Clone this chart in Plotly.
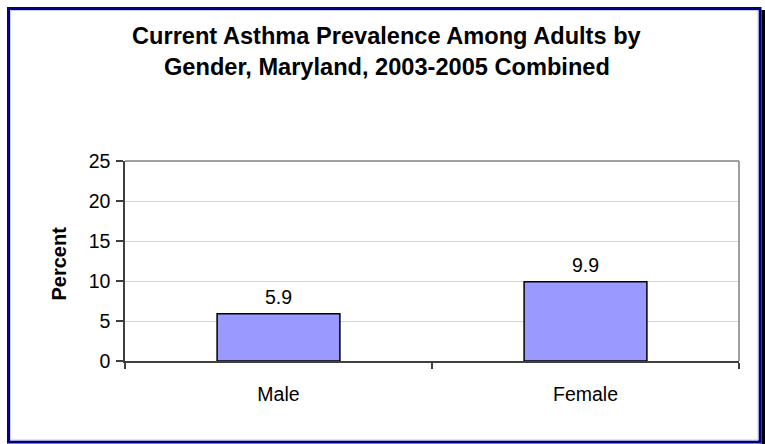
import plotly.graph_objects as go

# Current asthma prevalence among adults, Maryland 2003-2005 combined
genders = ["Male", "Female"]
prevalence = [5.9, 9.9]
y_ticks = [0, 5, 10, 15, 20, 25]

FONT = "Liberation Sans, Arial, sans-serif"

W, H = 765, 444
L, R, T, B = 125, 26, 161, 83
PW, PH = W - L - R, H - T - B


def px(x):
    """Convert a pixel column to paper x."""
    return (x - L) / PW


def py(y):
    """Convert a pixel row to paper y."""
    return (H - B - y) / PH


fig = go.Figure()
fig.add_trace(go.Bar(
    x=genders,
    y=prevalence,
    marker=dict(color="#9999FF", line=dict(color="#000000", width=1.5)),
    hoverinfo="skip",
))

annotations = []
# value labels above each bar
for g, v in zip(genders, prevalence):
    annotations.append(dict(
        x=g, y=v, xref="x", yref="y", text=f"{v}", showarrow=False,
        yanchor="bottom", yshift=4,
        font=dict(family=FONT, size=19.5, color="#000000"),
    ))

# two-line bold title
annotations.append(dict(
    x=px(386.5), y=py(36), xref="paper", yref="paper",
    text="<b>Current Asthma Prevalence Among Adults by</b>", showarrow=False,
    xanchor="center", yanchor="middle",
    font=dict(family=FONT, size=23.6, color="#000000"),
))
annotations.append(dict(
    x=px(386.5), y=py(67), xref="paper", yref="paper",
    text="<b>Gender, Maryland, 2003-2005 Combined</b>", showarrow=False,
    xanchor="center", yanchor="middle",
    font=dict(family=FONT, size=23.6, color="#000000"),
))
# y-axis title
annotations.append(dict(
    x=px(58.5), y=py(264), xref="paper", yref="paper",
    text="<b>Percent</b>", showarrow=False, textangle=-90,
    xanchor="center", yanchor="middle",
    font=dict(family=FONT, size=20, color="#000000"),
))

shapes = [
    # drop shadow on the right of the frame
    dict(type="rect", xref="paper", yref="paper",
         x0=px(761.5), x1=px(766), y0=py(10), y1=py(446),
         fillcolor="#000000", line=dict(width=0), layer="below"),
    # navy frame
    dict(type="rect", xref="paper", yref="paper",
         x0=px(8.5), x1=px(760), y0=py(8.5), y1=py(442),
         line=dict(color="#000080", width=3), fillcolor="rgba(0,0,0,0)"),
    # faint inner edge of the frame
    dict(type="rect", xref="paper", yref="paper",
         x0=px(10.5), x1=px(758), y0=py(10.5), y1=py(440),
         line=dict(color="#c8c8e8", width=1), fillcolor="rgba(0,0,0,0)"),
    # plot-area border (top and right)
    dict(type="line", xref="paper", yref="paper",
         x0=0, x1=1, y0=1, y1=1, line=dict(color="#808080", width=1.5)),
    dict(type="line", xref="paper", yref="paper",
         x0=1, x1=1, y0=0, y1=1, line=dict(color="#808080", width=1.5)),
]

fig.update_layout(
    width=W, height=H,
    margin=dict(l=L, r=R, t=T, b=B, pad=0),
    paper_bgcolor="#FFFFFF",
    plot_bgcolor="#FFFFFF",
    bargap=0.6,
    showlegend=False,
    font=dict(family=FONT, size=19.5, color="#000000"),
    annotations=annotations,
    shapes=shapes,
    xaxis=dict(
        type="category",
        showgrid=False,
        showline=True, linecolor="#404040", linewidth=1.5,
        ticks="outside", tickson="boundaries", ticklen=6,
        tickcolor="#404040", tickwidth=1.5,
        ticklabelstandoff=15,
        tickfont=dict(family=FONT, size=19.5, color="#000000"),
        zeroline=False,
        fixedrange=True,
    ),
    yaxis=dict(
        range=[0, 25],
        tickvals=y_ticks,
        ticktext=[str(t) for t in y_ticks],
        showgrid=True, gridcolor="#d4d4d4", gridwidth=1,
        showline=True, linecolor="#404040", linewidth=1.5,
        ticks="outside", ticklen=7, tickcolor="#404040", tickwidth=1.5,
        ticklabelstandoff=2,
        tickfont=dict(family=FONT, size=19.5, color="#000000"),
        zeroline=False,
        fixedrange=True,
    ),
)

fig.write_html("out.html", config={"displayModeBar": False})
